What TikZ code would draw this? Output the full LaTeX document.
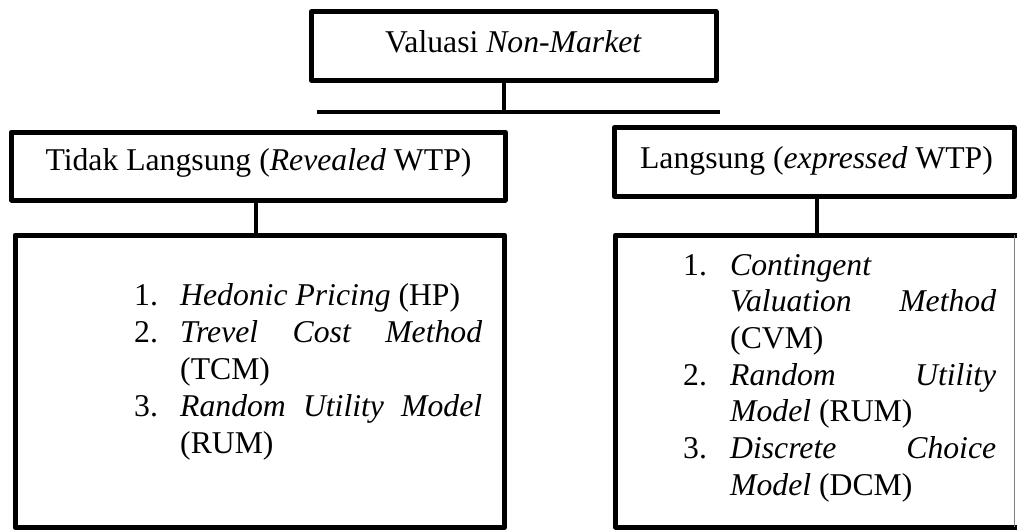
\documentclass[tikz,border=0pt]{standalone}
\usepackage{fontspec}
\setmainfont{Liberation Serif}
\usetikzlibrary{calc}
\begin{document}
\begin{tikzpicture}[x=1pt,y=-1pt,
  box/.style={draw, line width=5pt, line join=round, inner sep=0pt, outer sep=0pt},
  conn/.style={line width=3.5pt},
  lbl/.style={inner sep=0pt, anchor=base, font=\fontsize{31.7}{36.9}\selectfont},
  item/.style={inner sep=0pt, anchor=base west, font=\fontsize{31.7}{36.9}\selectfont}]
\useasboundingbox (0,0) rectangle (1017,530);

% header boxes
\node[box, minimum width=404.5pt, minimum height=69pt] (root) at (513.75,46) {};
\node[lbl] (rootT) at (513.5,52) {Valuasi \textit{Non-Market}};

\node[box, minimum width=493.5pt, minimum height=68pt] (lm) at (258.25,166) {};
\node[lbl] (lmT) at (258.5,170) {Tidak Langsung (\textit{Revealed} WTP)};

\node[box, minimum width=400pt, minimum height=69pt] (rm) at (814.5,162) {};
\node[lbl] (rmT) at (816.5,168) {Langsung (\textit{expressed} WTP)};

% list boxes
\node[box, minimum width=489.5pt, minimum height=292.5pt] (lb) at (259.75,381.25) {};
\node[inner sep=0pt, outer sep=0pt, minimum width=399pt, minimum height=292pt] (rb) at (815,381) {};
\draw[line width=5pt, line join=round] ($(rb.north east)+(6,0)$) -- (rb.north west) -- (rb.south west) -- ($(rb.south east)+(6,0)$);
\draw[line width=1.2pt, gray] (rb.north east) -- (rb.south east);

% connectors
\coordinate (hl) at (317,112);
\coordinate (hr) at (720,112);
\coordinate (hj) at (504,112);
\draw[conn] (root.south -| hj) -- (hj);
\draw[line width=3.3pt] (hl) -- (hr);
\coordinate (lx) at (256,0);
\coordinate (rx) at (817,0);
\draw[conn] (lm.south -| lx) -- (lb.north -| lx);
\draw[conn] (rm.south -| rx) -- (rb.north -| rx);

% left list
\node[item] (ln1) at (134,305) {1.};
\node[item] (lt1) at (180,305) {\textit{Hedonic Pricing} (HP)};
\node[item] (ln2) at (134,342) {2.};
\node[item] (lt2) at (180,342) {\makebox[302pt][s]{\textit{Trevel Cost Method}}};
\node[item] (lt3) at (180,379) {(TCM)};
\node[item] (ln3) at (134,416) {3.};
\node[item] (lt4) at (180,416) {\makebox[302pt][s]{\textit{Random Utility Model}}};
\node[item] (lt5) at (180,453) {(RUM)};

% right list
\node[item] (rn1) at (683,275) {1.};
\node[item] (rt1) at (730,275) {\textit{Contingent}};
\node[item] (rt2) at (730,311.7) {\makebox[266pt][s]{\textit{Valuation Method}}};
\node[item] (rt3) at (730,348.4) {(CVM)};
\node[item] (rn2) at (683,385.1) {2.};
\node[item] (rt4) at (730,385.1) {\makebox[266pt][s]{\textit{Random Utility}}};
\node[item] (rt5) at (730,421.8) {\textit{Model} (RUM)};
\node[item] (rn3) at (683,458.5) {3.};
\node[item] (rt6) at (730,458.5) {\makebox[266pt][s]{\textit{Discrete Choice}}};
\node[item] (rt7) at (730,495.2) {\textit{Model} (DCM)};
\end{tikzpicture}
\end{document}
